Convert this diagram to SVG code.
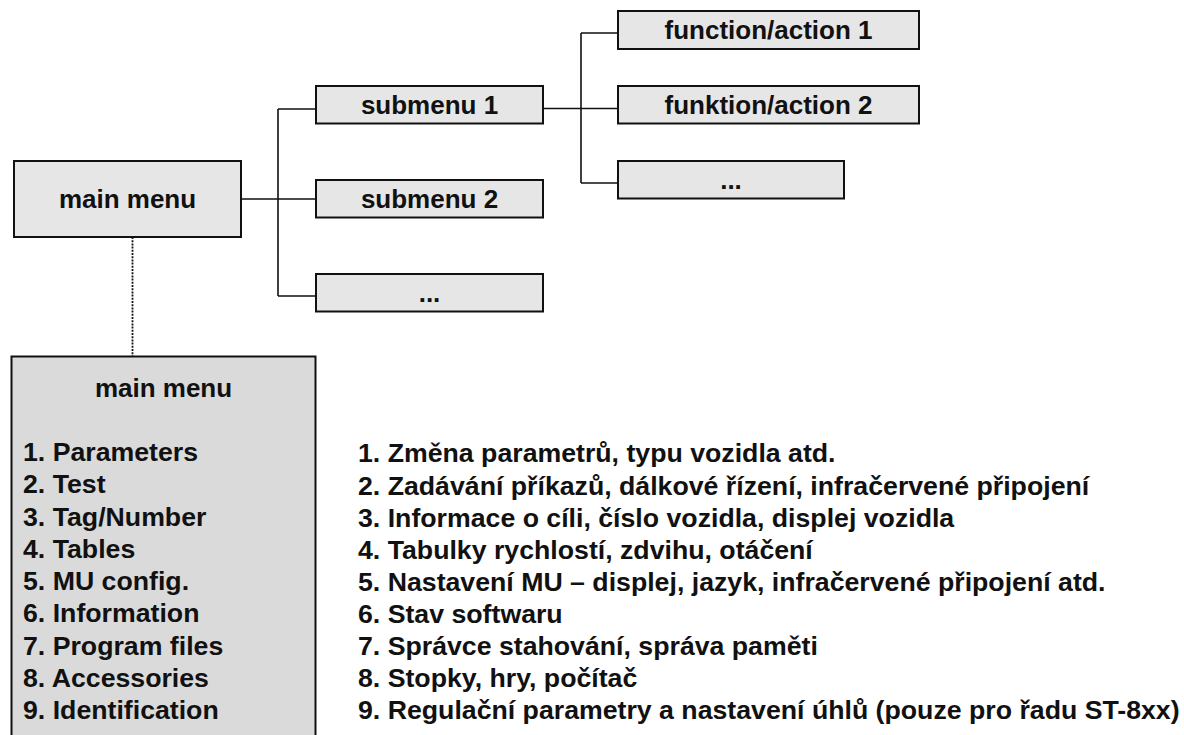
<svg xmlns="http://www.w3.org/2000/svg" width="1184" height="735" viewBox="0 0 1184 735">
<style>
  .box { fill: #e6e6e6; stroke: #111; stroke-width: 2; }
  .big { fill: #dadada; stroke: #111; stroke-width: 2; }
  .lbl { font-family: "Liberation Sans", Arial, sans-serif; font-weight: bold; font-size: 26px; fill: #111; text-anchor: middle; }
  .lst { font-family: "Liberation Sans", Arial, sans-serif; font-weight: bold; font-size: 26.7px; fill: #111; }
  .conn { fill: none; stroke: #111; stroke-width: 1.6; }
  .dot { fill: none; stroke: #111; stroke-width: 1.8; stroke-dasharray: 2 1.2; }
</style>
<rect width="1184" height="735" fill="#ffffff"/>
<g id="connectors">
  <path class="conn" d="M241 199 H316 M278 109 V296 M278 109 H316 M278 296 H316"/>
  <path class="conn" d="M543 108.5 H618 M581 33 V183 M581 33 H618 M581 183 H618"/>
  <path class="dot" d="M132.5 237 V356"/>
</g>
<g id="main-menu">
  <rect class="box" x="14" y="161" width="227" height="76"/>
  <text class="lbl" x="127.5" y="208">main menu</text>
</g>
<g id="submenu-1">
  <rect class="box" x="316" y="86" width="227" height="37.5"/>
  <text class="lbl" x="429.5" y="114">submenu 1</text>
</g>
<g id="submenu-2">
  <rect class="box" x="316" y="180" width="227" height="37.5"/>
  <text class="lbl" x="429.5" y="208">submenu 2</text>
</g>
<g id="submenu-more">
  <rect class="box" x="316" y="274" width="227" height="37.5"/>
  <text class="lbl" x="429.5" y="302">...</text>
</g>
<g id="function-1">
  <rect class="box" x="618" y="11" width="301" height="38"/>
  <text class="lbl" x="768.5" y="39">function/action 1</text>
</g>
<g id="function-2">
  <rect class="box" x="618" y="86" width="301" height="37.5"/>
  <text class="lbl" x="768.5" y="114">funktion/action 2</text>
</g>
<g id="function-more">
  <rect class="box" x="618" y="161" width="226" height="37.5"/>
  <text class="lbl" x="731" y="189">...</text>
</g>
<g id="main-menu-list">
  <rect class="big" x="11.5" y="356.5" width="304" height="400"/>
  <text class="lbl" x="163.5" y="397">main menu</text>
  <text class="lst" x="23" y="461">1. Parameters</text>
  <text class="lst" x="23" y="493">2. Test</text>
  <text class="lst" x="23" y="525.5">3. Tag/Number</text>
  <text class="lst" x="23" y="557.5">4. Tables</text>
  <text class="lst" x="23" y="590">5. MU config.</text>
  <text class="lst" x="23" y="622">6. Information</text>
  <text class="lst" x="23" y="654.5">7. Program files</text>
  <text class="lst" x="23" y="686.5">8. Accessories</text>
  <text class="lst" x="23" y="719">9. Identification</text>
</g>
<g id="descriptions">
  <text class="lst" x="358" y="462">1. Změna parametrů, typu vozidla atd.</text>
  <text class="lst" x="358" y="494.5">2. Zadávání příkazů, dálkové řízení, infračervené připojení</text>
  <text class="lst" x="358" y="526.5">3. Informace o cíli, číslo vozidla, displej vozidla</text>
  <text class="lst" x="358" y="558.5">4. Tabulky rychlostí, zdvihu, otáčení</text>
  <text class="lst" x="358" y="590.5">5. Nastavení MU – displej, jazyk, infračervené připojení atd.</text>
  <text class="lst" x="358" y="623">6. Stav softwaru</text>
  <text class="lst" x="358" y="655">7. Správce stahování, správa paměti</text>
  <text class="lst" x="358" y="687">8. Stopky, hry, počítač</text>
  <text class="lst" x="358" y="719">9. Regulační parametry a nastavení úhlů (pouze pro řadu ST-8xx)</text>
</g>
</svg>
